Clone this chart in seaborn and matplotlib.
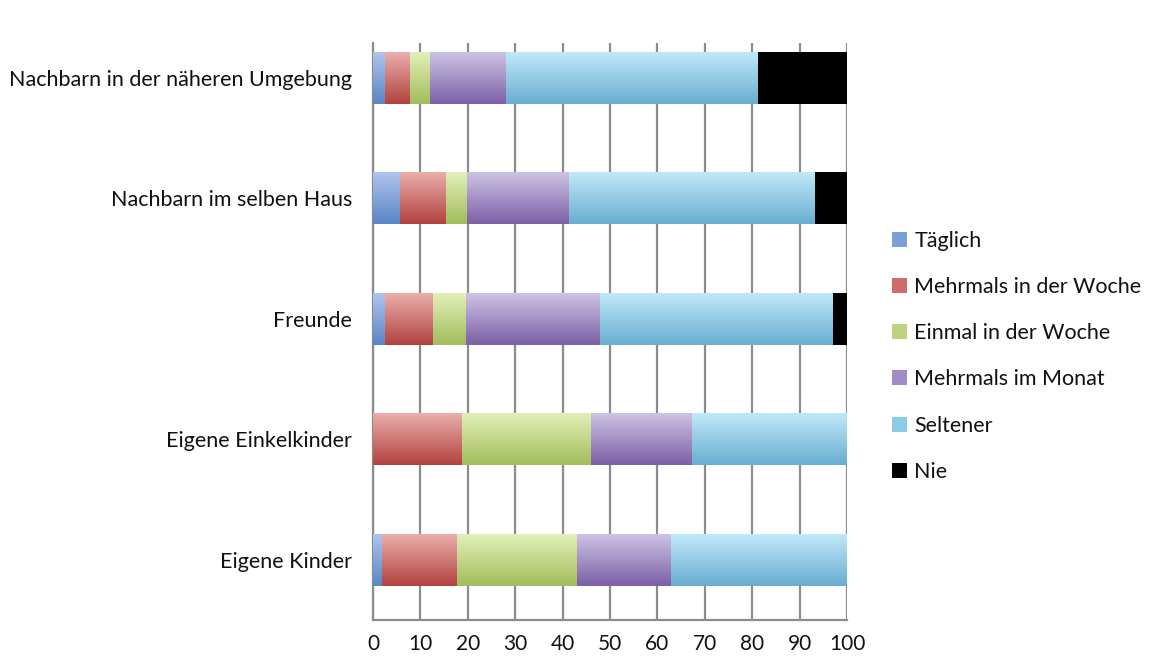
import numpy as np
import pandas as pd
import matplotlib
matplotlib.use("Agg")
import matplotlib.pyplot as plt
import matplotlib.colors as mcolors
from matplotlib.patches import Patch
import seaborn as sns

categories = ["Nachbarn in der näheren Umgebung", "Nachbarn im selben Haus",
              "Freunde", "Eigene Einkelkinder", "Eigene Kinder"]
series = ["Täglich", "Mehrmals in der Woche", "Einmal in der Woche",
          "Mehrmals im Monat", "Seltener", "Nie"]
taeglich = [2.5, 5.5, 2.5, 0.0, 1.8]
mehrmals_woche = [5.3, 9.9, 10.1, 18.7, 15.8]
einmal_woche = [4.1, 4.4, 7.0, 27.1, 25.4]
mehrmals_monat = [16.0, 21.5, 28.2, 21.5, 19.7]
seltener = [53.2, 51.8, 49.2, 32.7, 37.3]
nie = [18.9, 6.9, 3.0, 0.0, 0.0]
xticks = [0, 10, 20, 30, 40, 50, 60, 70, 80, 90, 100]

values = np.array([taeglich, mehrmals_woche, einmal_woche, mehrmals_monat, seltener, nie]).T
cum = np.cumsum(values, axis=1)

# (top, bottom, legend) colours for gradient fills
grad = [("#adc4ee", "#5a86c6", "#7b9fd8"),
        ("#eaaeab", "#b2423f", "#cf6c69"),
        ("#e2efb8", "#a2bd5c", "#bcd27f"),
        ("#cdc2e6", "#7c61a6", "#a28cc6"),
        ("#c0e8fa", "#69aed0", "#8ccbe6"),
        ("#000000", "#000000", "#000000")]

sns.set_theme(style="white")
plt.rcParams["font.family"] = ["Lato", "DejaVu Sans"]
plt.rcParams["text.color"] = "#111111"

fig = plt.figure(figsize=(11.56, 6.61), dpi=100)
ax = fig.add_axes([0.3227, 0.062, 0.410, 0.873])

bar_groups = []
n = len(series)
for k, i in enumerate(reversed(range(n))):
    before = len(ax.patches)
    df = pd.DataFrame({"cat": categories, "val": cum[:, i]})
    sns.barplot(data=df, x="val", y="cat", orient="h", color=grad[i][2],
                width=0.43, ax=ax, zorder=3 + k, saturation=1, errorbar=None,
                linewidth=0, edgecolor="none")
    bar_groups.append((i, k, ax.patches[before:]))

for i, k, patches in bar_groups:
    top, bot, _ = grad[i]
    cmap = mcolors.LinearSegmentedColormap.from_list("g", [top, bot])
    g = np.linspace(0, 1, 64).reshape(-1, 1)
    for p in patches:
        w = p.get_width()
        if w <= 0:
            p.set_visible(False)
            continue
        x0, y0, h = p.get_x(), p.get_y(), p.get_height()
        im = ax.imshow(g, cmap=cmap, extent=[x0, x0 + w, y0 + h, y0], origin="upper",
                       aspect="auto", zorder=3 + k + 0.5, interpolation="bilinear")
        im.set_clip_path(p)

ax.set_xlim(0, 100)
ax.set_ylim(4.5, -0.29)
ax.set_xticks(xticks)
ax.set_xticklabels([str(t) for t in xticks], fontsize=15, color="#111111")
ax.set_yticks(range(len(categories)))
ax.set_yticklabels(categories, fontsize=15.5, color="#111111")
ax.set_yticks(np.arange(0.5, 5.0, 1.0), minor=True)
ax.tick_params(axis="y", which="major", length=0, pad=15)
ax.tick_params(axis="y", which="minor", length=7, width=1.6, color="#8c8c8c", direction="out")
ax.tick_params(axis="x", which="major", length=7, width=1.6, color="#8c8c8c", direction="out", pad=3)
ax.set_xlabel("")
ax.set_ylabel("")
ax.grid(axis="x", color="#8c8c8c", linewidth=1.6, zorder=1)
ax.set_axisbelow(True)
for s in ["top", "right"]:
    ax.spines[s].set_visible(False)
for s in ["left", "bottom"]:
    ax.spines[s].set_color("#8c8c8c")
    ax.spines[s].set_linewidth(1.6)

handles = [Patch(facecolor=grad[i][2], edgecolor="none", label=series[i]) for i in range(n)]
leg = fig.legend(handles=handles, loc="upper left", bbox_to_anchor=(0.764, 0.664),
                 frameon=False, fontsize=15.5, handlelength=0.7, handleheight=0.7,
                 handletextpad=0.35, labelspacing=1.22, borderaxespad=0)

fig.savefig("out.png", dpi=100)
